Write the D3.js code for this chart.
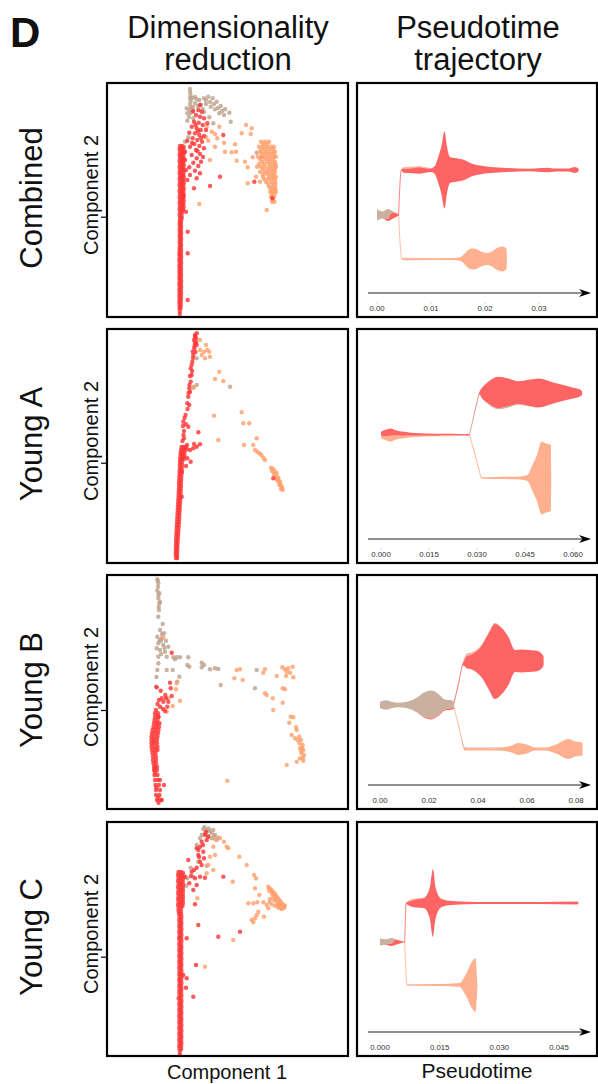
<!DOCTYPE html>
<html><head><meta charset="utf-8">
<script src="https://cdn.jsdelivr.net/npm/d3@7"></script>
<style>body{margin:0;background:#fff}svg{display:block}text{font-family:"Liberation Sans",Arial,sans-serif;fill:#111}</style>
</head><body><svg id="c" width="598" height="1084"></svg>
<script>
// ---------------- DATA ----------------
const rowNames = ["Combined","Young A","Young B","Young C"];
const comp1Domain = [0.7, 24.8];
const comp2Domains = [[0.3,23.7],[0.2,23.6],[0.1,23.5],[-0.1,23.3]];
const comp2Tick = [10.33, 10.23, 10.0, 9.83];

const combinedRed = [
[8.0,17.4],[8.2,17.4],[8.38,17.3],[7.95,17.1],[8.16,17.1],[8.34,17.0],[8.0,16.8],[8.2,16.8],[8.38,16.7],
[7.95,16.5],[8.16,16.5],[8.34,16.4],[8.0,16.2],[8.2,16.2],[8.38,16.1],[7.95,15.9],[8.16,15.9],[8.34,15.8],
[8.0,15.6],[8.2,15.6],[8.38,15.5],[7.95,15.3],[8.16,15.3],[8.34,15.2],[8.0,15.0],[8.2,15.0],[8.38,14.9],
[7.95,14.7],[8.16,14.7],[8.34,14.6],[8.0,14.4],[8.2,14.4],[8.38,14.3],[7.95,14.1],[8.16,14.1],[8.34,14.0],
[8.0,13.8],[8.2,13.8],[8.38,13.7],[7.95,13.5],[8.16,13.5],[8.34,13.4],[8.0,13.2],[8.2,13.2],[8.38,13.1],
[7.95,12.9],[8.16,12.9],[8.34,12.8],[8.0,12.6],[8.2,12.6],[8.38,12.5],[7.95,12.3],[8.16,12.3],[8.34,12.2],
[8.0,12.0],[8.2,12.0],[8.38,11.9],[7.95,11.7],[8.16,11.7],[8.34,11.6],[8.0,11.4],[8.2,11.4],[8.36,11.3],
[7.95,11.1],[8.16,11.1],[8.32,11.0],[8.0,10.8],[8.2,10.8],[7.95,10.5],[8.16,10.5],[8.0,10.2],[8.18,10.2],
[7.98,9.9],[8.12,9.9],[7.96,9.6],[8.1,9.6],[7.98,9.3],[8.12,9.3],[7.96,9.0],[8.1,9.0],
[7.98,8.7],[8.12,8.7],[7.96,8.4],[8.1,8.4],[7.98,8.1],[8.12,8.1],[7.96,7.8],[8.1,7.8],
[7.98,7.5],[8.12,7.5],[7.96,7.2],[8.1,7.2],[7.95,6.9],[8.12,6.9],[7.93,6.6],[8.1,6.6],
[7.95,6.3],[8.12,6.3],[7.93,6.0],[8.1,6.0],[7.95,5.7],[8.12,5.7],[7.93,5.4],[8.1,5.4],
[7.95,5.1],[8.12,5.1],[7.93,4.8],[8.1,4.8],[7.95,4.5],[8.12,4.5],[7.93,4.2],[8.1,4.2],
[7.95,3.9],[8.12,3.9],[7.93,3.6],[8.1,3.6],[7.95,3.3],[8.12,3.3],[7.93,3.0],[8.1,3.0],
[7.95,2.7],[8.12,2.7],[7.93,2.4],[8.1,2.4],[7.95,2.1],[8.1,2.1],[7.93,1.8],[8.08,1.8],
[7.95,1.5],[8.08,1.5],[7.95,1.2],[8.06,1.2],[7.98,0.9],[7.98,0.6],
[10.0,21.5],[9.83,21.0],[10.17,20.83],[9.6,20.5],[10.0,20.33],[10.4,20.17],[9.4,19.83],[9.87,19.73],[10.27,19.5],
[9.17,19.33],[9.67,19.17],[10.07,19.0],[10.6,19.0],[8.93,18.73],[9.5,18.67],[9.93,18.5],[10.4,18.4],[9.27,18.17],
[9.73,18.0],[10.2,17.83],[8.73,17.93],[9.43,17.6],[9.93,17.4],[9.0,17.33],[10.4,17.17],[9.6,17.0],[10.0,16.6],
[9.17,16.5],[9.67,16.17],[10.1,15.83],[9.33,15.73],[9.83,15.4],[8.93,15.27],[9.5,14.93],[10.0,14.67],[9.0,14.5],
[9.67,14.17],[8.73,14.0],[9.4,13.17],[11.0,13.4],[8.77,8.83],[8.77,6.67],[8.77,2.0],[12.0,14.33],[12.33,18.5],
[15.43,13.83],[17.23,12.17],[10.73,19.67],[8.5,16.83],[8.5,16.0],[8.6,15.0],[8.33,12.33],[8.6,10.83],
[9.3,20.9],[9.55,19.5],[9.8,18.9],[10.1,18.2],[9.2,17.7],[9.75,16.9],[10.3,16.3]
];
const combinedTan = [
[9.0,23.1],[9.02,22.8],[9.05,22.5],[9.0,22.2],[9.07,21.9],[9.0,21.6],[9.1,21.3],[8.95,21.0],[9.05,20.7],
[8.73,20.67],[9.27,20.83],[9.5,21.67],[9.93,22.0],[10.4,22.17],[10.83,22.33],[11.27,22.17],[11.67,21.83],
[12.07,21.4],[12.5,21.07],[12.93,20.73],[10.6,21.6],[11.07,21.33],[11.5,21.07],[11.93,20.67],[9.33,20.17],
[8.73,19.93],[13.07,19.83],[10.27,21.07],[8.5,17.83],[8.83,18.27],[15.67,16.73],[16.17,16.33],[8.67,21.17],
[9.67,22.07],[12.4,20.5],[11.33,19.67],[10.93,20.27],[9.2,22.2],[9.5,22.3],[10.1,21.5],[10.6,22.0],[11.0,21.8],
[11.4,21.6],[11.8,21.2],[12.2,20.9],[9.3,21.3],[8.9,20.3],[9.8,21.4],[10.4,20.8]
];
const combinedOrange = [
[10.6,18.27],[10.83,17.93],[11.5,18.6],[11.73,18.17],[12.4,17.73],[13.5,17.57],[12.5,16.83],[13.17,16.77],[11.0,16.0],
[9.93,11.6],[14.6,19.5],[15.17,19.17],[15.07,18.6],[14.17,18.67],[13.67,15.93],[14.5,15.83],[14.77,15.27],[15.27,16.27],
[16.67,11.0],[14.77,13.67],[11.5,17.33],[11.93,19.33],[10.67,19.33],[11.17,18.83],[13.6,16.83],
[16.1,17.83],[16.5,17.83],[16.9,17.83],[16.3,17.6],[16.7,17.6],
[15.9,17.33],[16.3,17.33],[16.7,17.33],[17.1,17.33],[17.4,17.33],[16.1,17.1],[16.5,17.1],[16.9,17.1],[17.3,17.1],
[16.0,16.83],[16.4,16.83],[16.8,16.83],[17.2,16.83],[17.5,16.83],[16.2,16.6],[16.6,16.6],[17.0,16.6],[17.4,16.6],
[15.8,16.33],[16.2,16.33],[16.6,16.33],[17.0,16.33],[17.4,16.33],[17.6,16.33],[16.0,16.1],[16.5,16.1],[16.9,16.1],[17.3,16.1],
[16.2,15.83],[16.7,15.83],[17.1,15.83],[17.5,15.83],[15.9,15.6],[16.4,15.6],[16.9,15.6],[17.3,15.6],[17.55,15.6],
[15.7,15.33],[16.1,15.33],[16.5,15.33],[17.0,15.33],[17.4,15.33],[17.6,15.33],[16.3,15.1],[16.8,15.1],[17.2,15.1],[17.5,15.1],
[16.0,14.83],[16.5,14.83],[16.8,14.83],[17.2,14.83],[17.5,14.83],[16.3,14.6],[16.7,14.6],[17.1,14.6],[17.4,14.6],
[15.6,14.33],[16.3,14.33],[16.9,14.33],[17.3,14.33],[17.6,14.33],[16.4,14.1],[16.8,14.1],[17.2,14.1],[17.5,14.1],
[16.0,13.83],[16.6,13.83],[17.1,13.83],[17.5,13.83],[16.8,13.6],[17.3,13.6],[17.55,13.6],
[16.9,13.33],[17.2,13.33],[17.5,13.33],[17.1,13.1],[17.35,13.1],[17.55,13.1],
[17.0,12.83],[17.3,12.83],[17.6,12.83],[17.2,12.6],[17.45,12.6],
[17.1,12.33],[17.4,12.33],[17.2,11.83],[17.45,11.83],[17.3,12.1]
];

const youngARed = [
[8.15,11.8],[8.35,11.8],[8.55,11.8],[8.1,11.5],[8.3,11.5],[8.5,11.5],[8.05,11.2],[8.25,11.2],[8.45,11.2],
[8.05,10.9],[8.25,10.9],[8.45,10.9],[8.0,10.6],[8.2,10.6],[8.4,10.6],[8.0,10.3],[8.2,10.3],[7.98,10.0],[8.2,10.0],
[7.98,9.7],[8.18,9.7],[7.95,9.4],[8.15,9.4],[7.95,9.1],[8.15,9.1],[7.93,8.8],[8.13,8.8],[7.92,8.5],[8.12,8.5],
[7.9,8.2],[8.1,8.2],[7.9,7.9],[8.1,7.9],[7.88,7.6],[8.08,7.6],[7.87,7.3],[8.07,7.3],[7.85,7.0],[8.05,7.0],
[7.84,6.7],[8.04,6.7],[7.82,6.4],[8.02,6.4],[7.8,6.1],[8.0,6.1],[7.78,5.8],[7.98,5.8],[7.77,5.5],[7.97,5.5],
[7.75,5.2],[7.95,5.2],[7.74,4.9],[7.93,4.9],[7.72,4.6],[7.92,4.6],[7.7,4.3],[7.9,4.3],[7.68,4.0],[7.88,4.0],
[7.66,3.7],[7.86,3.7],[7.65,3.4],[7.84,3.4],[7.63,3.1],[7.82,3.1],[7.62,2.8],[7.8,2.8],[7.6,2.5],[7.78,2.5],
[7.6,2.2],[7.76,2.2],[7.58,1.9],[7.75,1.9],[7.58,1.6],[7.74,1.6],[7.57,1.3],[7.73,1.3],[7.57,1.0],[7.72,1.0],[7.6,0.7],[7.72,0.7],
[8.73,16.17],[8.93,16.0],[8.83,16.83],[8.93,17.67],[9.07,18.33],[9.17,19.0],[9.07,19.67],[9.23,20.33],[9.33,21.0],
[9.43,21.67],[9.5,22.17],[9.6,22.67],[9.67,23.17],[9.4,22.5],[9.67,22.0],[9.27,21.33],[9.5,22.83],[8.33,14.33],
[8.6,14.07],[8.4,13.4],[8.83,13.83],[8.4,12.67],[9.83,13.27],[10.0,12.07],[9.67,11.83],[9.33,11.67],[9.0,11.5],
[8.67,11.6],[8.73,10.67],[9.07,10.33],[8.2,9.33],[8.17,6.83],[17.33,8.67],[9.0,17.33],[9.17,20.0],
[9.5,23.0],[9.6,22.3],[9.45,21.9],[9.55,21.3],[9.3,20.7],[9.2,19.4],[9.0,18.9],[8.95,18.0],[8.85,17.2],[8.75,15.6],
[8.55,15.0],[8.45,14.7],[8.3,13.9],[8.35,13.0],[8.25,12.4],[8.7,12.0],[9.4,12.1],[8.6,9.9]
];
const youngATan = [[9.67,20.67],[9.67,18.0],[9.33,17.73],[13.0,17.83],[8.17,10.6]];
const youngAOrange = [
[10.0,22.5],[10.6,22.0],[10.73,21.5],[10.93,21.33],[10.4,21.33],[10.17,21.0],[10.0,21.5],[11.0,20.83],[10.5,20.67],
[11.93,19.33],[11.5,18.6],[12.33,18.4],[9.4,17.83],[11.4,14.93],[14.17,15.27],[14.33,14.17],[14.93,14.17],[15.67,12.67],
[11.83,12.5],[14.4,12.0],[15.33,12.0],[15.5,11.5],[15.73,11.33],[15.93,11.17],[16.13,11.0],[16.33,10.73],[16.5,10.5],
[17.1,9.73],[17.33,9.6],[17.5,9.33],[17.67,9.17],[17.6,8.83],[17.83,8.73],[17.77,8.4],[18.0,8.33],[17.93,8.0],
[18.17,7.83],[18.1,7.6],[18.27,7.5],[17.4,9.07],[17.67,8.6],[17.2,9.4],[17.85,8.5],[18.05,8.1],[18.2,7.7]
];

const youngBRed = [
[5.6,10.0],[5.5,9.67],[5.8,9.67],[5.5,9.33],[5.85,9.33],[5.45,9.0],[5.75,9.0],[5.4,8.67],[5.7,8.67],[5.95,8.67],
[5.35,8.33],[5.65,8.33],[5.9,8.33],[5.25,8.0],[5.55,8.0],[5.85,8.0],[5.2,7.67],[5.5,7.67],[5.8,7.67],[5.15,7.33],
[5.45,7.33],[5.75,7.33],[5.15,7.0],[5.4,7.0],[5.7,7.0],[5.15,6.67],[5.4,6.67],[5.7,6.67],[5.15,6.33],[5.45,6.33],
[5.75,6.33],[5.2,6.0],[5.5,6.0],[5.75,6.0],[5.25,5.67],[5.55,5.67],[5.3,5.33],[5.6,5.33],[5.3,5.0],[5.6,5.0],
[5.35,4.67],[5.6,4.67],[5.4,4.33],[5.7,4.33],[5.4,4.0],[5.7,4.0],[5.45,3.5],[5.75,3.5],[5.5,3.0],[5.8,3.0],
[5.55,2.5],[5.9,2.5],[5.6,2.0],[6.0,2.0],[5.6,1.5],[5.95,1.5],[5.7,1.0],[6.1,1.0],[5.85,0.73],
[6.4,2.5],[6.17,1.0],[6.0,3.0],[5.5,3.75],[5.65,2.25],[5.8,1.25],[5.5,4.2],
[6.07,11.93],[6.17,11.17],[6.33,10.83],[6.6,11.17],[6.83,10.83],[6.73,10.33],[7.0,12.73],[7.07,12.17],[5.67,12.27],
[6.0,10.33],[5.83,9.33],[7.17,15.73],[6.53,11.5],[7.17,11.4],[5.75,10.6],[5.9,11.0],[6.3,10.1],[6.5,9.9]
];
const youngBTan = [
[5.73,23.07],[5.83,22.67],[5.73,21.93],[5.93,21.67],[5.83,21.17],[6.0,20.83],[5.87,20.33],[5.83,19.33],[5.93,20.67],
[5.8,22.3],[5.85,21.5],[5.78,22.9],[5.9,20.0],
[6.27,18.6],[6.0,18.0],[6.4,17.67],[5.73,17.33],[6.17,17.17],[6.6,16.93],[5.83,16.67],[6.33,16.5],[6.83,16.33],
[6.0,16.0],[6.5,15.83],[5.83,15.33],[7.33,15.27],[7.67,15.27],[8.0,15.27],[7.5,15.07],[8.83,15.27],[6.1,16.93],
[5.67,16.17],[6.67,15.33],[6.2,17.6],[5.95,17.0],[6.45,16.2],[6.1,15.6],
[8.73,14.5],[8.93,14.33],[10.17,14.73],[10.4,14.5],[10.17,14.27],[11.0,14.07],[11.5,14.17],[11.83,14.1],[12.07,12.5],
[15.67,14.0],[15.5,12.17],[5.83,14.67],[5.73,14.0],[6.67,14.0],[7.27,14.0],[7.93,13.33],[7.73,12.83],[5.6,12.33],[5.65,13.3]
];
const youngBOrange = [
[6.33,17.27],[7.67,12.67],[7.6,12.07],[8.0,10.93],[7.27,10.4],[6.83,11.17],[6.67,9.83],[13.67,14.0],[14.0,14.07],
[13.43,13.17],[14.27,13.0],[16.5,14.07],[16.33,13.73],[17.67,13.4],[18.23,14.27],[18.5,14.07],[18.83,14.17],[19.27,14.33],
[18.67,13.83],[19.0,13.73],[19.33,13.27],[18.6,13.4],[18.27,12.17],[18.5,12.07],[16.5,11.67],[16.67,11.5],[17.27,11.17],
[18.27,10.73],[17.33,10.0],[19.07,9.33],[19.33,9.27],[18.93,8.73],[19.6,8.27],[19.67,8.0],[19.17,7.5],[19.5,7.17],
[19.93,7.33],[20.1,7.0],[19.93,6.67],[20.27,6.5],[20.0,6.17],[20.33,6.0],[20.17,5.67],[20.4,5.5],[20.0,5.17],
[20.33,4.93],[19.67,4.83],[18.67,4.5],[12.73,2.93],[19.77,7.0],[20.2,6.2],[20.1,5.9],[20.3,5.2]
];

const youngCRed = [
[7.85,18.3],[8.1,18.3],[8.3,18.2],[7.8,18.0],[8.05,18.0],[8.28,17.9],[7.85,17.7],[8.1,17.7],[8.3,17.6],
[7.8,17.4],[8.05,17.4],[8.28,17.3],[7.85,17.1],[8.1,17.1],[8.3,17.0],[7.8,16.8],[8.05,16.8],[8.28,16.7],
[7.85,16.5],[8.1,16.5],[8.3,16.4],[7.8,16.2],[8.05,16.2],[8.28,16.1],[7.85,15.9],[8.1,15.9],[8.3,15.8],
[7.8,15.6],[8.05,15.6],[8.28,15.5],[7.85,15.3],[8.1,15.3],[8.3,15.2],[7.8,15.0],[8.05,15.0],[8.25,14.9],
[7.85,14.7],[8.1,14.7],[7.85,14.4],[8.1,14.4],[7.9,14.1],[8.12,14.1],
[7.95,13.8],[8.15,13.8],[7.92,13.5],[8.12,13.5],[7.95,13.2],[8.15,13.2],[7.92,12.9],[8.12,12.9],[7.95,12.6],[8.15,12.6],
[7.92,12.3],[8.12,12.3],[7.95,12.0],[8.15,12.0],[7.92,11.7],[8.12,11.7],[7.95,11.4],[8.15,11.4],[7.92,11.1],[8.12,11.1],
[7.95,10.8],[8.15,10.8],[7.92,10.5],[8.12,10.5],[7.95,10.2],[8.15,10.2],[7.92,9.9],[8.12,9.9],[7.95,9.6],[8.15,9.6],
[7.92,9.3],[8.12,9.3],[7.95,9.0],[8.15,9.0],[7.92,8.7],[8.12,8.7],[7.95,8.4],[8.15,8.4],[7.92,8.1],[8.12,8.1],
[7.95,7.8],[8.15,7.8],[7.92,7.5],[8.12,7.5],[7.95,7.2],[8.15,7.2],[7.92,6.9],[8.12,6.9],[7.95,6.6],[8.15,6.6],
[7.92,6.3],[8.12,6.3],[7.95,6.0],[8.15,6.0],[7.92,5.7],[8.12,5.7],[7.95,5.4],[8.15,5.4],[7.92,5.1],[8.12,5.1],
[7.95,4.8],[8.15,4.8],[7.92,4.5],[8.12,4.5],[7.95,4.2],[8.15,4.2],[7.92,3.9],[8.12,3.9],[7.95,3.6],[8.15,3.6],
[7.92,3.3],[8.12,3.3],[7.95,3.0],[8.15,3.0],[7.92,2.7],[8.12,2.7],[7.95,2.4],[8.15,2.4],[7.92,2.1],[8.12,2.1],
[7.95,1.8],[8.15,1.8],[7.92,1.5],[8.12,1.5],[7.95,1.2],[8.15,1.2],[7.92,0.9],[8.12,0.9],[7.95,0.6],[8.12,0.6],[7.98,0.3],[7.98,0.0],
[8.83,19.5],[9.17,18.33],[9.67,18.73],[8.5,17.83],[9.5,17.67],[10.0,17.83],[10.5,17.73],[8.93,17.17],[9.67,17.0],
[9.33,16.5],[10.17,19.0],[9.83,20.0],[10.33,20.33],[10.0,20.83],[9.67,20.67],[10.67,21.5],[10.5,22.0],[10.83,21.83],
[10.17,21.33],[9.83,20.5],[10.4,19.67],[12.33,17.83],[9.5,15.07],[9.83,13.0],[11.83,11.83],[8.67,11.67],[14.0,12.33],
[9.6,9.0],[8.67,7.67],[8.6,6.73],[9.33,5.83],[8.33,8.0],[10.0,19.33],[10.3,21.0],[10.6,22.3],[9.9,19.8],[9.4,18.5],[9.1,17.9]
];
const youngCTan = [
[10.33,22.6],[10.67,22.5],[11.0,22.4],[11.33,22.5],[10.5,22.17],[11.5,22.0],[11.83,21.73],[10.17,22.0],[11.17,21.67],
[10.0,21.67],[11.67,21.5],[9.67,21.0],[9.83,19.33],[9.07,18.73],[8.6,16.93],[8.73,17.67],[9.33,17.83],[7.93,11.67],
[7.83,5.67],[10.67,18.93],[10.85,22.65],[11.15,22.2],[10.8,21.9],[11.4,21.85],[10.45,22.8]
];
const youngCOrange = [
[11.5,21.6],[12.0,21.67],[12.4,21.33],[12.67,20.83],[12.83,20.67],[11.33,20.83],[11.0,19.83],[11.5,20.0],[10.83,19.0],
[11.33,18.5],[10.67,18.17],[13.93,19.83],[14.67,19.0],[15.4,18.0],[15.6,17.67],[13.27,17.33],[15.5,16.67],[15.93,16.0],
[14.83,15.17],[15.33,15.17],[15.73,15.27],[16.33,15.27],[16.83,14.67],[15.83,14.33],[16.4,13.83],[15.67,14.0],[15.17,13.5],
[15.33,13.27],[15.5,13.67],[13.33,11.5],[10.5,8.83],[9.73,15.67],
[16.83,16.83],[17.07,16.6],[17.27,16.33],[17.5,16.07],[17.73,15.73],[18.0,15.4],[18.27,15.07],[18.4,14.73],[18.17,14.6],
[17.83,14.73],[17.5,14.93],[17.17,15.07],[16.93,16.4],[17.33,15.83],[17.67,15.33],[18.0,14.93],[18.5,14.93],[16.67,15.0],
[17.2,16.1],[17.55,15.55],[17.9,15.1],[18.3,14.8],[16.95,15.3],[16.9,16.65],[17.15,16.45],[17.4,16.2],[17.6,15.95],
[17.85,15.6],[18.1,15.25],[18.35,14.95],[17.0,15.6],[17.4,15.5],[17.75,15.0],[18.1,14.7]
];

const scatterPanels = [
  {red: combinedRed, tan: combinedTan, orange: combinedOrange},
  {red: youngARed, tan: youngATan, orange: youngAOrange},
  {red: youngBRed, tan: youngBTan, orange: youngBOrange},
  {red: youngCRed, tan: youngCTan, orange: youngCOrange}
];

// Pseudotime trajectory
const ptDomains = [[-0.00167,0.03963],[-0.00406,0.06563],[-0.0049,0.0861],[-0.00302,0.05304]];
const ptTicks = [[0,0.01,0.02,0.03],[0,0.015,0.03,0.045,0.06],[0,0.02,0.04,0.06,0.08],[0,0.015,0.03,0.045]];
const ptFormats = [".2f",".3f",".2f",".3f"];

const combinedBranches = [
 {t:[0.0040,0.0046,0.0050,0.0100,0.0140,0.0155,0.0165,0.0172,0.0180,0.0195,0.0205,0.0225,0.0232,0.0240,0.02405],
  c:[10.2,5.8,5.8,5.8,5.8,5.8,5.8,5.8,5.8,5.8,5.8,5.8,5.8,5.8,5.8],
  layers:[["tan",[0,0.02,0.07,0.03,0,0,0,0,0,0,0,0,0,0,0]],
          ["orange",[0.03,0.05,0.2,0.17,0.2,0.4,1.4,2.0,2.1,1.4,1.2,2.3,2.5,2.0,0]]]},
 {t:[0.0040,0.0045,0.0049,0.0065,0.0078,0.0090,0.0100,0.0107,0.0114,0.0119,0.0125,0.0130,0.0135,0.0144,0.0159,0.0175,0.0190,0.0210,0.0240,0.0280,0.0305,0.0315,0.0330,0.0355,0.0366,0.0371,0.0374],
  c:[10.2,14.7,14.7,14.7,14.7,14.7,14.7,14.7,14.7,14.7,14.7,14.7,14.7,14.7,14.7,14.7,14.7,14.7,14.7,14.7,14.7,14.7,14.7,14.7,14.7,14.7,14.7],
  layers:[["orange",[0.02,0.04,0.15,0.15,0.1,0.1,0.05,0,0,0,0,0,0,0,0,0,0,0,0,0,0,0,0,0,0,0,0]],
          ["red",[0.04,0.08,0.4,0.5,0.65,0.45,0.35,0.8,2.8,4.6,7.7,4.4,2.6,2.4,2.1,1.3,0.9,0.6,0.4,0.27,0.4,0.47,0.3,0.3,0.6,0.45,0]]]},
 {t:[0,0.001,0.002,0.0025,0.003,0.0037,0.0041],
  c:[10.2,10.2,10.2,10.2,10.2,10.2,10.2],
  layers:[["tan",[1.2,0.7,1.0,0.4,0.1,0,0]],["red",[0,0,0.2,0.6,0.6,0.3,0.08]]]}
];
const youngABranches = [
 {t:[0.0276,0.0290,0.0305,0.0315,0.0356,0.0419,0.0450,0.0461,0.0471,0.0487,0.0502,0.0512,0.0531,0.0532],
  c:[12.8,11.3,9.5,8.5,8.5,8.5,8.5,8.5,8.5,8.5,8.5,8.5,8.5,8.5],
  layers:[["orange",[0.03,0.04,0.06,0.12,0.2,0.25,0.45,0.8,2.3,4.5,7.3,7.0,6.6,0]]]},
 {t:[0.0276,0.0288,0.0298,0.0308,0.0315,0.0330,0.0367,0.0398,0.0429,0.0460,0.0492,0.0544,0.0596,0.0618,0.0627,0.0629],
  c:[12.8,14.4,15.8,17.0,17.0,17.0,17.0,17.0,17.0,17.0,17.0,17.0,17.0,17.0,17.0,17.0],
  layers:[["red",[0.08,0.12,0.18,0.3,1.0,1.9,3.15,2.8,2.3,2.6,2.9,2.0,1.17,0.8,0.5,0]],
          ["tan",[0,0,0,0,0.02,0.05,0.1,0.1,0.05,0.03,0.02,0,0,0,0,0]]]},
 {t:[0,0.0015,0.0031,0.0045,0.0073,0.0104,0.0177,0.0220,0.0262,0.0270,0.0277],
  c:[12.8,12.8,12.8,12.8,12.8,12.8,12.8,12.8,12.8,12.8,12.8],
  layers:[["red",[0.4,0.62,0.73,0.55,0.4,0.27,0.2,0.18,0.12,0.2,0.08]],
          ["orange",[0.27,0.42,0.57,0.42,0.27,0.13,0.07,0.06,0.04,0.05,0.03]]]}
];
const youngBBranches = [
 {t:[0.0300,0.0322,0.0347,0.0442,0.0497,0.0538,0.0564,0.0599,0.0633,0.0673,0.0714,0.0769,0.0796,0.0826,0.0827],
  c:[10.4,8.2,6.0,6.0,6.0,6.0,6.0,6.0,6.0,6.0,6.0,6.0,6.0,6.0,6.0],
  layers:[["tan",[0.03,0.03,0.1,0.1,0.05,0,0,0,0,0,0,0,0,0,0]],
          ["orange",[0.03,0.05,0.2,0.2,0.3,0.7,1.2,0.9,0.3,0.3,0.8,2.0,1.5,1.3,0]]]},
 {t:[0.0300,0.0320,0.0340,0.0354,0.0374,0.0415,0.0442,0.0469,0.0497,0.0524,0.0551,0.0578,0.0605,0.0640,0.0667,0.0668],
  c:[10.4,12.5,14.6,14.8,14.8,14.8,14.8,14.8,14.8,14.8,14.8,14.8,14.8,14.8,14.8,14.8],
  layers:[["tan",[0.03,0.05,0.1,0.1,0.1,0.07,0.05,0.1,0,0,0,0,0,0,0,0]],
          ["orange",[0,0.03,0.1,0.15,0.1,0.05,0,0,0,0,0,0,0,0,0,0]],
          ["red",[0.06,0.1,0.3,1.2,1.5,3.2,5.5,7.5,6.6,4.8,2.2,2.3,2.2,2.05,1.0,0]]]},
 {t:[0,0.0025,0.0050,0.0075,0.0110,0.0150,0.0180,0.0210,0.0240,0.0265,0.0290,0.0301],
  c:[10.4,10.4,10.4,10.4,10.4,10.4,10.4,10.4,10.4,10.4,10.4,10.4],
  layers:[["tan",[0.65,0.95,0.6,0.43,0.65,1.4,2.4,2.8,2.0,1.0,0.8,0.6]],
          ["red",[0,0,0,0,0,0.05,0.08,0.08,0.1,0.1,0.15,0.2]]]}
];
const youngCBranches = [
 {t:[0.0062,0.0068,0.0150,0.0200,0.0215,0.0230,0.0240,0.0245],
  c:[11.4,7.1,7.1,7.1,7.1,7.1,7.1,7.1],
  layers:[["orange",[0.05,0.1,0.2,0.4,2.0,4.5,5.4,0]]]},
 {t:[0.0062,0.0066,0.0070,0.0090,0.0110,0.0125,0.0133,0.0140,0.0155,0.0180,0.0250,0.0400,0.0495,0.0500],
  c:[11.4,15.3,15.3,15.3,15.3,15.3,15.3,15.3,15.3,15.3,15.3,15.3,15.3,15.3],
  layers:[["orange",[0,0.03,0.1,0.1,0,0,0,0,0,0,0,0,0,0]],
          ["red",[0.06,0.1,0.3,0.8,1.0,3.0,6.8,3.0,0.8,0.4,0.2,0.2,0.3,0]]]},
 {t:[0,0.0015,0.0028,0.0038,0.0050,0.0058,0.0063],
  c:[11.4,11.4,11.4,11.4,11.4,11.4,11.4],
  layers:[["tan",[0.7,0.5,0.6,0.1,0,0,0]],["red",[0,0.05,0.2,0.5,0.3,0.12,0.06]]]}
];
const trajectoryPanels = [combinedBranches, youngABranches, youngBBranches, youngCBranches];

// ---------------- STYLE / LAYOUT ----------------
const dotColors = {red:"#ff3535", tan:"#bda28c", orange:"#ffa06c"};
const trajColors = {red:"#ff6464", tan:"#cab19f", orange:"#ffb08e"};
const rowTops = [83, 329, 575, 822], rowH = 234;
const leftX = 107, leftW = 241, rightX = 357, rightW = 240;

const svg = d3.select("#c");
const defs = svg.append("defs");

svg.append("text").attr("x",10).attr("y",47).attr("font-size",42).attr("font-weight","bold").text("D");
[["Dimensionality",228,38],["reduction",228,70],["Pseudotime",478,38],["trajectory",478,70]].forEach(([s,x,y])=>{
  svg.append("text").attr("x",x).attr("y",y).attr("text-anchor","middle").attr("font-size",31).text(s);
});
svg.append("text").attr("x",227).attr("y",1079).attr("text-anchor","middle").attr("font-size",20).text("Component 1");
svg.append("text").attr("x",477).attr("y",1078).attr("text-anchor","middle").attr("font-size",21).text("Pseudotime");

rowNames.forEach((name, i) => {
  const top = rowTops[i], cy = top + rowH/2;
  svg.append("text").attr("transform",`translate(42,${cy-2}) rotate(-90)`).attr("text-anchor","middle").attr("font-size",31).text(name);
  svg.append("text").attr("transform",`translate(98,${cy-5}) rotate(-90)`).attr("text-anchor","middle").attr("font-size",20).text("Component 2");

  // ---- scatter panel ----
  const xs = d3.scaleLinear().domain(comp1Domain).range([leftX, leftX+leftW]);
  const ys = d3.scaleLinear().domain(comp2Domains[i]).range([top+rowH, top]);
  const cid = "clipL"+i;
  defs.append("clipPath").attr("id",cid).append("rect").attr("x",leftX).attr("y",top).attr("width",leftW).attr("height",rowH);
  const gL = svg.append("g").attr("clip-path",`url(#${cid})`);
  const P = scatterPanels[i];
  ["tan","orange","red"].forEach(grp => {
    gL.selectAll(null).data(P[grp]).join("circle")
      .attr("cx",d=>xs(d[0])).attr("cy",d=>ys(d[1])).attr("r",2.2)
      .attr("fill",dotColors[grp]).attr("fill-opacity",0.82);
  });
  svg.append("g").attr("transform",`translate(${leftX-1},0)`)
    .call(d3.axisLeft(ys).tickValues([comp2Tick[i]]).tickSize(5).tickFormat(""))
    .call(g=>g.select(".domain").remove())
    .call(g=>g.selectAll("line").attr("stroke","#000").attr("stroke-width",1.2));
  svg.append("rect").attr("x",leftX).attr("y",top).attr("width",leftW).attr("height",rowH)
    .attr("fill","none").attr("stroke","#000").attr("stroke-width",2.2);

  // ---- trajectory panel ----
  const tx = d3.scaleLinear().domain(ptDomains[i]).range([368, 591]);
  const ty = d3.scaleLinear().domain([0, 23.4]).range([top+rowH, top]);
  const gR = svg.append("g");
  trajectoryPanels[i].forEach(br => {
    // connector (where the branch centre moves from the parent to its own level)
    let k1 = 0;
    while (k1 < br.c.length-1 && br.c[k1] !== br.c[k1+1]) k1++;
    if (k1 > 0) {
      const lineGen = d3.line().x(k=>tx(br.t[k])).y(k=>ty(br.c[k])).curve(d3.curveMonotoneX);
      const idx = d3.range(0, k1+2);
      const mainGrp = br.layers[br.layers.length-1][0];
      gR.append("path").attr("d",lineGen(idx)).attr("fill","none")
        .attr("stroke",trajColors[mainGrp]).attr("stroke-width",1).attr("stroke-opacity",0.8);
    }
    const tot = br.t.map((_,k)=>br.layers.reduce((s,l)=>s+l[1][k],0));
    let off = br.t.map((_,k)=>br.c[k] + tot[k]/2);
    br.layers.forEach(([grp,w]) => {
      const upper = off.slice();
      const lower = off.map((o,k)=>o - w[k]);
      const area = d3.area().x((d,k)=>tx(br.t[k])).y0((d,k)=>ty(lower[k])).y1((d,k)=>ty(upper[k])).curve(d3.curveMonotoneX);
      gR.append("path").attr("d",area(br.t)).attr("fill",trajColors[grp]);
      off = lower;
    });
  });
  const ay = top + 210;
  const [d0,d1] = ptDomains[i];
  gR.append("line").attr("x1",tx(d0)).attr("x2",tx(d1)-3).attr("y1",ay).attr("y2",ay).attr("stroke","#222").attr("stroke-width",1);
  const xe = tx(d1);
  gR.append("path").attr("d",`M${xe},${ay} L${xe-12},${ay-4} L${xe-8.5},${ay} L${xe-12},${ay+4} Z`).attr("fill","#000");
  const fmt = d3.format(ptFormats[i]);
  ptTicks[i].forEach(v => {
    gR.append("line").attr("x1",tx(v)).attr("x2",tx(v)).attr("y1",top+219).attr("y2",top+221).attr("stroke","#ccc").attr("stroke-width",0.8);
    gR.append("text").attr("x",tx(v)).attr("y",top+228).attr("text-anchor","middle")
      .attr("font-family","DejaVu Sans").attr("font-size",7.8).style("fill","#333").text(fmt(v));
  });
  svg.append("rect").attr("x",rightX).attr("y",top).attr("width",rightW).attr("height",rowH)
    .attr("fill","none").attr("stroke","#000").attr("stroke-width",2.2);
});
</script></body></html>
